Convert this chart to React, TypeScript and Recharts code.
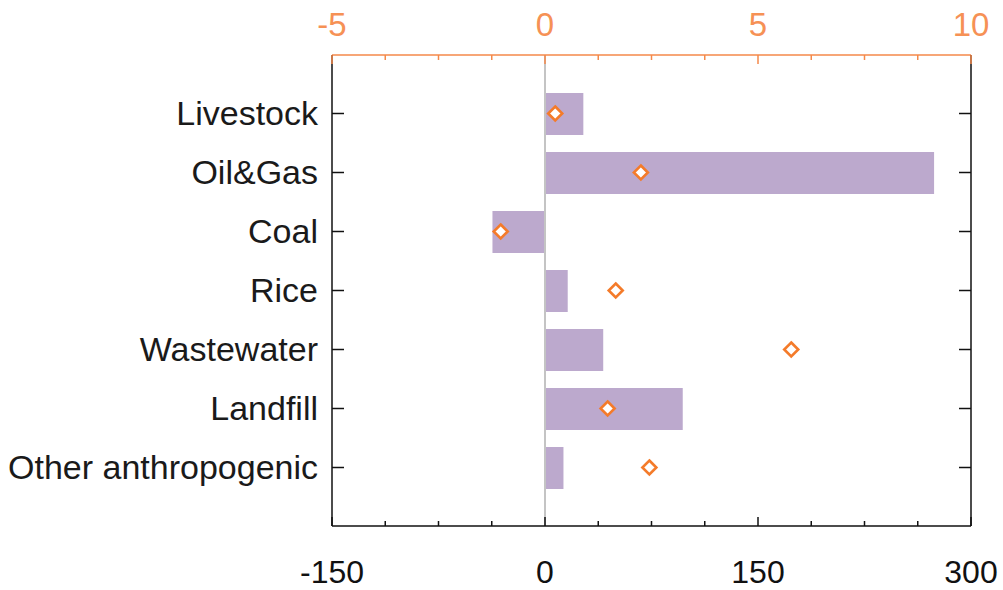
import React from "react";
import {
  ComposedChart,
  Bar,
  Scatter,
  XAxis,
  YAxis,
  ReferenceLine,
} from "recharts";

const categories = [
  "Livestock",
  "Oil&Gas",
  "Coal",
  "Rice",
  "Wastewater",
  "Landfill",
  "Other anthropogenic",
];
// bottom axis (black)
const emissions = [27, 274, -37, 16, 41, 97, 13];
// top axis (orange)
const trends = [0.24, 2.25, -1.04, 1.66, 5.78, 1.47, 2.45];

const bottomTicks = [-150, -112.5, -75, -37.5, 0, 37.5, 75, 112.5, 150, 187.5, 225, 262.5, 300];
const bottomLabels = [-150, 0, 150, 300];
const topTicks = [-5, -3.75, -2.5, -1.25, 0, 1.25, 2.5, 3.75, 5, 6.25, 7.5, 8.75, 10];
const topLabels = [-5, 0, 5, 10];

const data = categories.map((name, i) => ({
  name,
  emission: emissions[i],
  trend: trends[i],
}));

const FONT = "'Liberation Sans', Arial, Helvetica, sans-serif";
const ORANGE_AXIS = "#f4894a";
const ORANGE_TEXT = "#f69155";
const ORANGE_MARK = "#f47b2a";

const BottomTick = (props: any) => {
  const { x, y, payload } = props;
  const v = payload.value;
  const labeled = bottomLabels.includes(v);
  return (
    <g>
      <line x1={x} x2={x} y1={y} y2={y - (labeled ? 9 : 5)} stroke="#111" strokeWidth={1.5} />
      {labeled && (
        <text x={x} y={y + 57} textAnchor="middle" fontSize={32} fontFamily={FONT} fill="#111">
          {v}
        </text>
      )}
    </g>
  );
};

const TopTick = (props: any) => {
  const { x, y, payload } = props;
  const v = payload.value;
  const labeled = topLabels.includes(v);
  return (
    <g>
      <line x1={x} x2={x} y1={y} y2={y + (labeled ? 9 : 5)} stroke={ORANGE_AXIS} strokeWidth={1.5} />
      {labeled && (
        <text x={x} y={y - 19} textAnchor="middle" fontSize={33} fontFamily={FONT} fill={ORANGE_TEXT}>
          {v}
        </text>
      )}
    </g>
  );
};

const LeftTick = (props: any) => {
  const { x, y, payload } = props;
  return (
    <g>
      <line x1={x} x2={x + 12} y1={y} y2={y} stroke="#111" strokeWidth={1.5} />
      <text x={x - 14} y={y} dy="0.35em" textAnchor="end" fontSize={34} fontFamily={FONT} fill="#1a1a1a">
        {payload.value}
      </text>
    </g>
  );
};

const RightTick = (props: any) => {
  const { x, y } = props;
  return <line x1={x - 12} x2={x} y1={y} y2={y} stroke="#111" strokeWidth={1.5} />;
};

const Diamond = (props: any) => {
  const { cx, cy } = props;
  const r = 7;
  return (
    <path
      d={`M${cx},${cy - r}L${cx + r},${cy}L${cx},${cy + r}L${cx - r},${cy}Z`}
      fill="#fff"
      stroke={ORANGE_MARK}
      strokeWidth={2.6}
    />
  );
};

export default function App() {
  return (
    <div style={{ position: "absolute", left: 0, top: 0, width: 1003, height: 590 }}>
      <ComposedChart
        width={1003}
        height={590}
        data={data}
        layout="vertical"
        margin={{ top: 0, right: 0, bottom: 0, left: 0 }}
        barSize={42}
      >
        <XAxis
          xAxisId="bottom"
          orientation="bottom"
          type="number"
          domain={[-150, 300]}
          ticks={bottomTicks}
          interval={0}
          height={64}
          tickSize={0}
          tickMargin={0}
          tickLine={false}
          axisLine={{ stroke: "#111", strokeWidth: 1.5 }}
          tick={<BottomTick />}
        />
        <XAxis
          xAxisId="top"
          orientation="top"
          type="number"
          domain={[-5, 10]}
          ticks={topTicks}
          interval={0}
          height={55}
          tickSize={0}
          tickMargin={0}
          tickLine={false}
          axisLine={{ stroke: ORANGE_AXIS, strokeWidth: 1.5 }}
          tick={<TopTick />}
        />
        <YAxis
          yAxisId="left"
          type="category"
          dataKey="name"
          width={332}
          padding={{ top: 29, bottom: 29 }}
          interval={0}
          tickSize={0}
          tickMargin={0}
          tickLine={false}
          axisLine={{ stroke: "#111", strokeWidth: 1.5 }}
          tick={<LeftTick />}
        />
        <YAxis
          yAxisId="right"
          orientation="right"
          type="category"
          dataKey="name"
          width={32}
          padding={{ top: 29, bottom: 29 }}
          interval={0}
          tickSize={0}
          tickMargin={0}
          tickLine={false}
          axisLine={{ stroke: "#111", strokeWidth: 1.5 }}
          tick={<RightTick />}
        />
        <Bar
          xAxisId="bottom"
          yAxisId="left"
          dataKey="emission"
          fill="#bca9cd"
          isAnimationActive={false}
        />
        <ReferenceLine xAxisId="bottom" yAxisId="left" x={0} stroke="#c4c4c4" strokeWidth={2} />
        <Scatter
          xAxisId="top"
          yAxisId="left"
          dataKey="trend"
          shape={<Diamond />}
          isAnimationActive={false}
        />
      </ComposedChart>
    </div>
  );
}
